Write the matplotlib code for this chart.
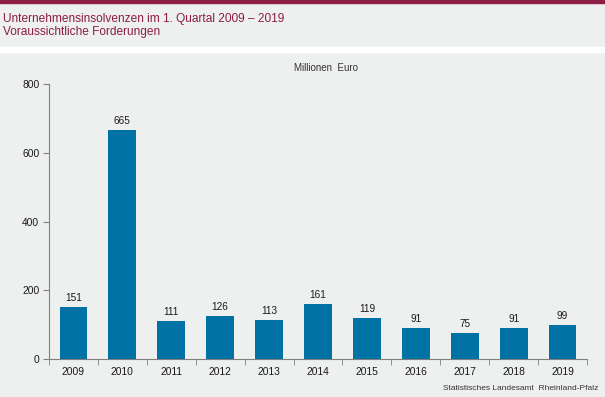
import matplotlib.pyplot as plt
from matplotlib.patches import Rectangle

# Daten
jahre = ['2009', '2010', '2011', '2012', '2013', '2014', '2015', '2016', '2017', '2018', '2019']
forderungen = [151, 665, 111, 126, 113, 161, 119, 91, 75, 91, 99]

bg = '#eeefef'
rot = '#8c1d45'
blau = '#0072a3'

plt.rcParams['font.family'] = ['Liberation Sans', 'DejaVu Sans']

fig = plt.figure(figsize=(6.05, 3.97), dpi=100)
fig.patch.set_facecolor(bg)

# Kopfbereich: roter Streifen oben, weisse Trennlinie
fig.patches.append(Rectangle((0, 1 - 2.5 / 397), 1, 2.5 / 397, transform=fig.transFigure,
                             color=rot, zorder=0))
fig.patches.append(Rectangle((0, 1 - 52 / 397), 1, 4.5 / 397, transform=fig.transFigure,
                             color='white', zorder=0))
fig.text(3 / 605, 1 - 19 / 397, 'Unternehmensinsolvenzen im 1. Quartal 2009 – 2019',
         color=rot, fontsize=8.6, va='center', ha='left')
fig.text(3 / 605, 1 - 32.5 / 397, 'Voraussichtliche Forderungen',
         color=rot, fontsize=8.6, va='center', ha='left')

ax = fig.add_axes([49 / 605, 1 - 359 / 397, 538 / 605, 275 / 397])
ax.set_facecolor(bg)
x = range(len(jahre))
bars = ax.bar(x, forderungen, width=0.57, color=blau)
for b, v in zip(bars, forderungen):
    ax.text(b.get_x() + b.get_width() / 2, v + 12, str(v), ha='center', va='bottom',
            fontsize=7.2, color='#1a1a1a')

ax.set_xlim(-0.5, len(jahre) - 0.5)
ax.set_ylim(0, 800)
ax.set_yticks([0, 200, 400, 600, 800])
ax.set_xticks(x)
ax.set_xticklabels(jahre)
ax.set_xticks([i - 0.5 for i in range(len(jahre) + 1)], minor=True)
ax.tick_params(axis='x', which='major', length=0, pad=6, labelsize=7.4, labelcolor='#1a1a1a')
ax.tick_params(axis='x', which='minor', length=4, color='#808080', direction='out')
ax.tick_params(axis='y', length=4, color='#808080', labelsize=7.4, pad=3, labelcolor='#1a1a1a')
for s in ['top', 'right']:
    ax.spines[s].set_visible(False)
for s in ['left', 'bottom']:
    ax.spines[s].set_color('#808080')

fig.text(326 / 605, 1 - 68 / 397, 'Millionen  Euro', ha='center', va='center', fontsize=7,
         color='#333333')
fig.text(598 / 605, 1 - 389 / 397, 'Statistisches Landesamt  Rheinland-Pfalz', ha='right',
         va='center', fontsize=6, color='#333333')

fig.savefig('out.png', dpi=100, facecolor=bg)
